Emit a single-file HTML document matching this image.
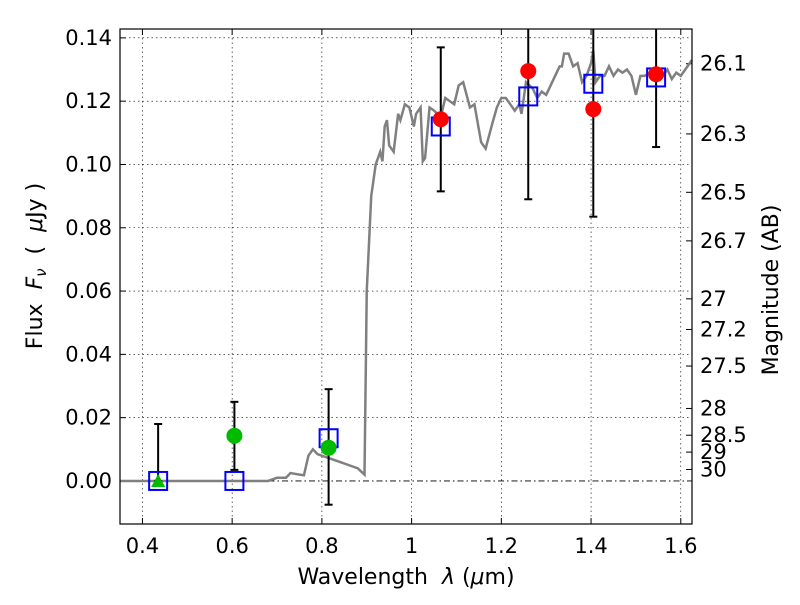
<!DOCTYPE html>
<html><head><meta charset="utf-8"><style>
body{margin:0;background:#fff}
svg text{font-family:"DejaVu Sans","Liberation Sans",sans-serif;fill:#000}
</style></head><body>
<svg id="c" width="800" height="600" xmlns="http://www.w3.org/2000/svg"></svg>
<script>
const specWave=[0.35,0.5,0.68,0.70,0.72,0.73,0.75,0.76,0.77,0.78,0.79,0.80,0.82,0.84,0.86,0.88,0.895,0.90,0.91,0.92,0.93,0.935,0.94,0.945,0.95,0.96,0.97,0.975,0.985,0.995,1.005,1.01,1.02,1.025,1.03,1.04,1.05,1.065,1.075,1.085,1.095,1.105,1.115,1.13,1.14,1.155,1.165,1.18,1.19,1.2,1.21,1.22,1.23,1.24,1.245,1.255,1.27,1.28,1.29,1.30,1.31,1.32,1.33,1.335,1.34,1.35,1.36,1.37,1.38,1.39,1.40,1.405,1.41,1.42,1.43,1.44,1.45,1.46,1.47,1.48,1.49,1.50,1.51,1.52,1.53,1.55,1.56,1.57,1.58,1.59,1.60,1.61,1.625];
const specFlux=[0,0,0,0.001,0.001,0.0025,0.002,0.0018,0.008,0.01,0.0085,0.008,0.007,0.006,0.005,0.004,0.002,0.06,0.09,0.100,0.104,0.101,0.112,0.114,0.106,0.104,0.116,0.114,0.119,0.118,0.112,0.116,0.118,0.101,0.102,0.118,0.117,0.115,0.121,0.120,0.119,0.125,0.126,0.118,0.119,0.107,0.105,0.113,0.118,0.121,0.121,0.119,0.117,0.119,0.116,0.126,0.124,0.121,0.123,0.122,0.125,0.128,0.131,0.131,0.135,0.135,0.131,0.132,0.126,0.128,0.132,0.136,0.126,0.128,0.128,0.131,0.128,0.130,0.129,0.130,0.128,0.122,0.128,0.128,0.129,0.128,0.128,0.130,0.127,0.129,0.128,0.130,0.133];
const obsWave=[0.435,0.605,0.815,1.065,1.26,1.405,1.545];
const obsFlux=[0,0.0143,0.0105,0.1143,0.1295,0.1175,0.1285];
const errLow=[0,0.0035,-0.0075,0.0915,0.089,0.0835,0.1055];
const errHigh=[0.018,0.025,0.029,0.137,0.16,0.16,0.16];
const modelFlux=[0,0,0.0135,0.112,0.1215,0.1255,0.1275];
const xTicks=[0.4,0.6,0.8,1.0,1.2,1.4,1.6];
const xTickLabels=["0.4","0.6","0.8","1","1.2","1.4","1.6"];
const yTicks=[0,0.02,0.04,0.06,0.08,0.10,0.12,0.14];
const yTickLabels=["0.00","0.02","0.04","0.06","0.08","0.10","0.12","0.14"];
const magTicks=[26.1,26.3,26.5,26.7,27,27.2,27.5,28,28.5,29,30];
const magLabels=["26.1","26.3","26.5","26.7","27","27.2","27.5","28","28.5","29","30"];

const L=120,R=692,T=29,B=524,x0=0.35,x1=1.625,y0=-0.0136,y1=0.1428;
const X=v=>L+(v-x0)/(x1-x0)*(R-L);
const Y=v=>B-(v-y0)/(y1-y0)*(B-T);
const svg=document.getElementById('c');
const NS='http://www.w3.org/2000/svg';
function mk(tag,at,txt){const e=document.createElementNS(NS,tag);for(const k in at)e.setAttribute(k,at[k]);if(txt!==undefined)e.textContent=txt;svg.appendChild(e);return e;}

xTicks.forEach((t,i)=>{
  const g=mk('line',{x1:X(t),x2:X(t),y1:T,y2:B,stroke:'#000','stroke-width':0.6,'stroke-dasharray':'1.5,3'});
  
  
  const tk=mk('line',{x1:X(t),x2:X(t),y1:B,y2:B-6,stroke:'#000'});
  
  
  const tk2=mk('line',{x1:X(t),x2:X(t),y1:T,y2:T+6,stroke:'#000'});
  
  
  const l=mk('text',{x:X(t),y:B+29,'text-anchor':'middle','font-size':21},xTickLabels[i]);
  
  
});
yTicks.forEach((t,i)=>{
  const g=mk('line',{x1:L,x2:R,y1:Y(t),y2:Y(t),stroke:'#000','stroke-width':0.6,'stroke-dasharray':'1.5,3'});
  
  
  const tk=mk('line',{x1:L,x2:L+6,y1:Y(t),y2:Y(t),stroke:'#000'});
  
  
  const l=mk('text',{x:L-8,y:Y(t)+7,'text-anchor':'end','font-size':21},yTickLabels[i]);
  
  
});
magTicks.forEach((m,i)=>{
  const f=Math.pow(10,(23.9-m)/2.5);
  const tk=mk('line',{x1:R-6,x2:R,y1:Y(f),y2:Y(f),stroke:'#000'});
  
  
  const l=mk('text',{x:R+8,y:Y(f)+7,'font-size':21},magLabels[i]);
  
  
});
const z=mk('line',{x1:L,x2:R,y1:Y(0),y2:Y(0),stroke:'#000','stroke-width':0.8,'stroke-dasharray':'6,3,1.5,3'});


const sp=mk('polyline',{points:specWave.map((w,i)=>X(w)+','+Y(specFlux[i])).join(' '),fill:'none',stroke:'#808080','stroke-width':2.5});


obsWave.forEach((w,i)=>{
  const top=Math.min(errHigh[i],y1);
  const e=mk('line',{x1:X(w),x2:X(w),y1:Y(errLow[i]),y2:Y(top),stroke:'#000','stroke-width':2});
  
  
  const c1=mk('line',{x1:X(w)-4,x2:X(w)+4,y1:Y(errLow[i]),y2:Y(errLow[i]),stroke:'#000','stroke-width':2});
  
  
  if(errHigh[i]<y1){const c2=mk('line',{x1:X(w)-4,x2:X(w)+4,y1:Y(top),y2:Y(top),stroke:'#000','stroke-width':2});
  
  }
});
obsWave.forEach((w,i)=>{
  const s=mk('rect',{x:X(w)-9,y:Y(modelFlux[i])-9,width:18,height:18,fill:'none',stroke:'#0000ff','stroke-width':2});
  
  
});
obsWave.forEach((w,i)=>{
  const col=w<1?'#00bb00':'#ff0000';
  let p;
  if(i===0){p=mk('polygon',{points:`${X(w)},${Y(obsFlux[i])-7} ${X(w)-7},${Y(obsFlux[i])+6} ${X(w)+7},${Y(obsFlux[i])+6}`,fill:col});}
  else p=mk('circle',{cx:X(w),cy:Y(obsFlux[i]),r:8,fill:col});
  
  
});
const fr=mk('rect',{x:L,y:T,width:R-L,height:B-T,fill:'none',stroke:'#000','stroke-width':1.2});


const xl=mk('text',{x:406,y:584,'text-anchor':'middle','font-size':22});


xl.innerHTML='Wavelength&#160;&#160;<tspan font-style="italic">λ</tspan> (<tspan font-style="italic">μ</tspan>m)';
const yl=mk('text',{x:0,y:0,'text-anchor':'middle','font-size':22,transform:'translate(42,266) rotate(-90)'});


yl.innerHTML='Flux&#160;&#160;<tspan font-style="italic">F</tspan><tspan font-style="italic" font-size="15" dy="4">ν</tspan><tspan dy="-4">&#160;&#160;(&#160;&#160;</tspan><tspan font-style="italic">μ</tspan>Jy )';
const rl=mk('text',{x:0,y:0,'text-anchor':'middle','font-size':22,transform:'translate(778,290) rotate(-90)'},'Magnitude (AB)');


</script>
</body></html>
